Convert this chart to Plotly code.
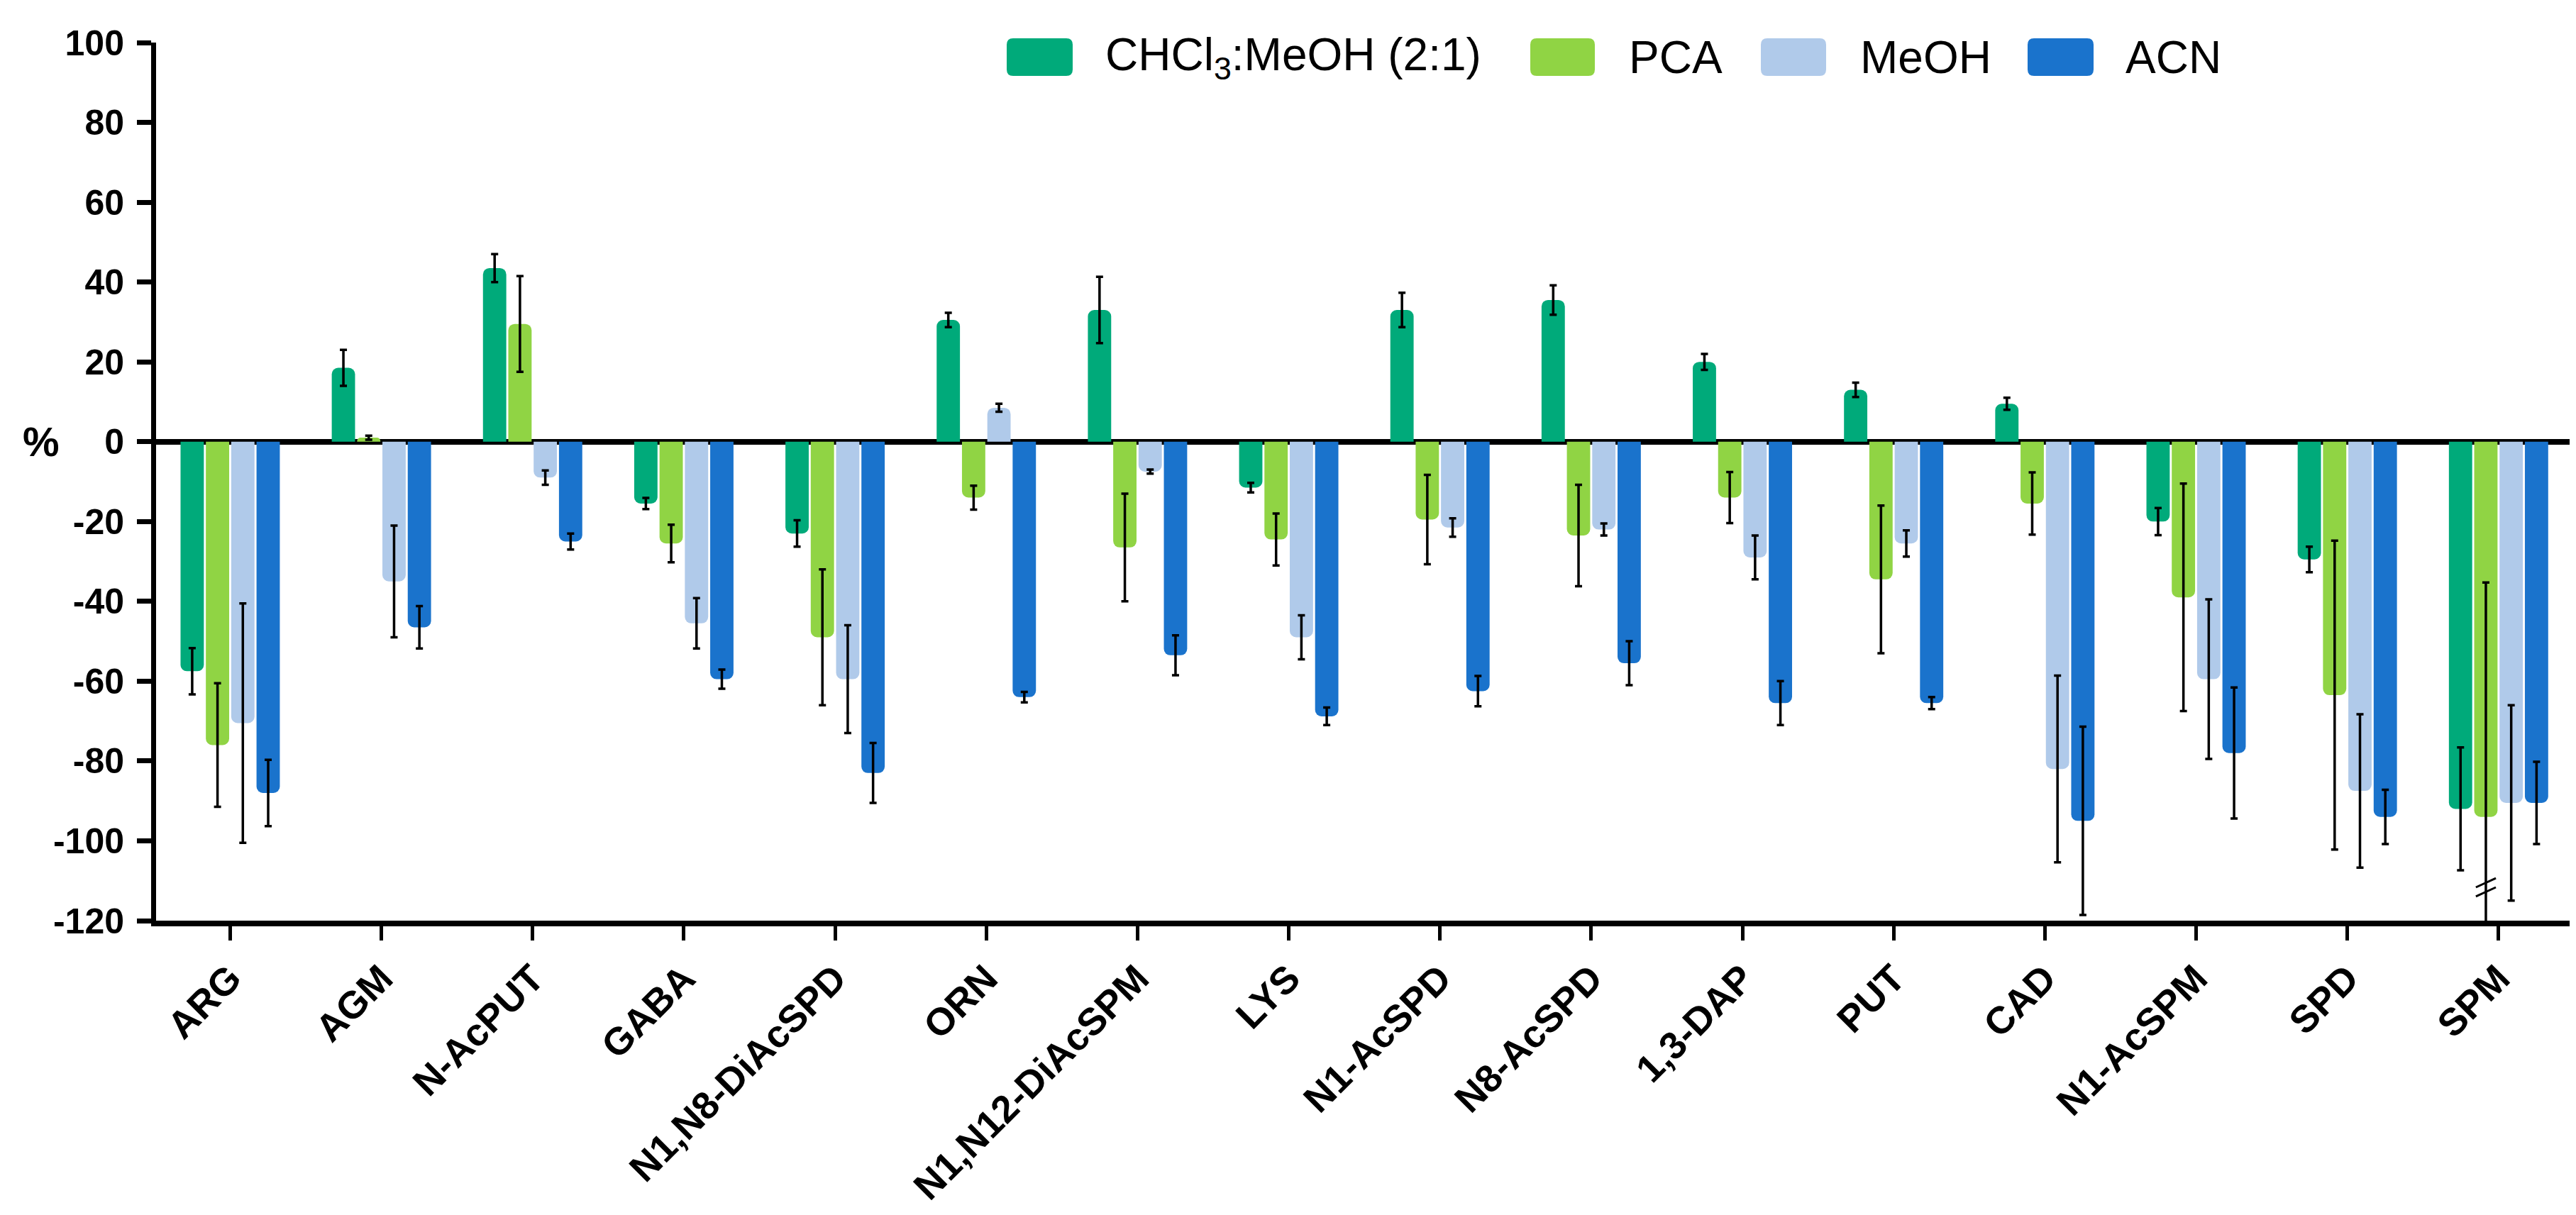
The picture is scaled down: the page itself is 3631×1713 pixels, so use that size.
import plotly.graph_objects as go

categories = ["ARG", "AGM", "N-AcPUT", "GABA", "N1,N8-DiAcSPD", "ORN", "N1,N12-DiAcSPM",
              "LYS", "N1-AcSPD", "N8-AcSPD", "1,3-DAP", "PUT", "CAD", "N1-AcSPM", "SPD", "SPM"]

chcl3 = [-57.5, 18.5, 43.5, -15.5, -23, 30.5, 33, -11.5, 33, 35.5, 20, 13, 9.5, -20, -29.5, -92]
chcl3_err = [5.8, 4.5, 3.5, 1.4, 3.3, 1.8, 8.3, 1.2, 4.3, 3.7, 2, 1.8, 1.5, 3.4, 3.2, 15.4]
pca = [-76, 1, 29.5, -25.5, -49, -14, -26.5, -24.5, -19.5, -23.5, -14, -34.5, -15.5, -39, -63.5, -94]
pca_err = [15.5, 0.5, 12, 4.7, 17, 3, 13.5, 6.5, 11.2, 12.7, 6.4, 18.5, 7.8, 28.5, 38.7, 58.7]
meoh = [-70.5, -35, -9, -45.5, -59.5, 8.5, -7.5, -49, -21.5, -22, -29, -25.5, -82, -59.5, -87.5, -90.5]
meoh_err = [30, 14, 1.8, 6.3, 13.5, 1, 0.5, 5.5, 2.3, 1.5, 5.5, 3.3, 23.4, 20, 19.2, 24.5]
acn = [-88, -46.5, -25, -59.5, -83, -64, -53.5, -68.8, -62.5, -55.5, -65.5, -65.5, -95, -78, -94, -90.5]
acn_err = [8.3, 5.3, 2, 2.4, 7.5, 1.3, 5, 2.2, 3.8, 5.5, 5.5, 1.5, 23.6, 16.4, 6.8, 10.3]

series_names = ["CHCl<sub>3</sub>:MeOH (2:1)", "PCA", "MeOH", "ACN"]
series_vals = [chcl3, pca, meoh, acn]
series_errs = [chcl3_err, pca_err, meoh_err, acn_err]
colors = ["#00AA7A", "#90D444", "#B0CAEA", "#1A73CC"]

yticks = [100, 80, 60, 40, 20, 0, -20, -40, -60, -80, -100, -120]

W, H = 3631, 1713
ML, MR, MT, MB = 212, 17, 52, 423
PW, PH = W - ML - MR, H - MT - MB
FONT = "Liberation Sans, Arial, sans-serif"
BARGAP = 0.33


def px2x(px):
    return (px - ML) / PW


def py2y(py):
    return (H - MB - py) / PH


def rounded_rect(w, h, r):
    hw, hh = w / 2, h / 2
    return (f"M{-hw + r},{-hh} L{hw - r},{-hh} Q{hw},{-hh} {hw},{-hh + r} "
            f"L{hw},{hh - r} Q{hw},{hh} {hw - r},{hh} L{-hw + r},{hh} "
            f"Q{-hw},{hh} {-hw},{hh - r} L{-hw},{-hh + r} Q{-hw},{-hh} {-hw + r},{-hh} Z")


fig = go.Figure()
for name, vals, errs, col in zip(series_names, series_vals, series_errs, colors):
    fig.add_trace(go.Bar(
        x=categories, y=vals, name=name,
        marker=dict(color=col, line=dict(width=0), cornerradius=9),
        error_y=dict(type="data", array=errs, visible=True, color="black",
                     thickness=3.5, width=5),
        showlegend=False,
    ))

# axis-break mark on the clipped PCA error bar of SPM
n = len(series_vals)
slot = (1 - BARGAP) / n
pca_off = -(1 - BARGAP) / 2 + 1.5 * slot
spm_i = categories.index("SPM")
for yb in (-110.5, -112.8):
    fig.add_shape(type="line", xref="x", yref="y",
                  x0=spm_i + pca_off - 0.066, x1=spm_i + pca_off + 0.066,
                  y0=yb - 1.15, y1=yb + 1.15,
                  line=dict(color="black", width=3))

# custom legend (large rounded swatches as in the reference)
leg_sw = [(1411, 1504), (2149, 2240), (2474, 2566), (2850, 2943)]
leg_tx = [1548, 2286, 2612, 2986]
for (x0, x1), tx, name, col in zip(leg_sw, leg_tx, series_names, colors):
    fig.add_shape(type="path", xref="paper", yref="paper",
                  xsizemode="pixel", ysizemode="pixel",
                  xanchor=px2x((x0 + x1) / 2), yanchor=py2y(72.5),
                  path=rounded_rect(x1 - x0, 53, 9),
                  fillcolor=col, line=dict(width=0))
    fig.add_annotation(xref="paper", yref="paper", x=px2x(tx), y=py2y(73),
                       xanchor="left", yanchor="middle", showarrow=False,
                       text=name, font=dict(family=FONT, size=64, color="black"))

fig.add_annotation(xref="paper", yref="y", x=px2x(50), y=0, xanchor="center",
                   yanchor="middle", showarrow=False, text="%",
                   font=dict(family=FONT, size=58, color="black", weight="bold"))

fig.update_layout(
    width=W, height=H,
    margin=dict(l=ML, r=MR, t=MT, b=MB, pad=0),
    paper_bgcolor="white", plot_bgcolor="white",
    barmode="group", bargap=BARGAP, bargroupgap=0.08,
    font=dict(family=FONT, color="black"),
)
fig.update_xaxes(
    type="category", range=[-0.49, 15.47],
    showline=True, linewidth=8, linecolor="black",
    ticks="outside", ticklen=20, tickwidth=5, tickcolor="black",
    tickangle=-45, showgrid=False, zeroline=False,
    tickfont=dict(family=FONT, size=54, color="black", weight="bold"),
)
fig.update_yaxes(
    range=[-120, 100], tickvals=yticks, ticktext=[str(v) for v in yticks],
    showline=True, linewidth=7, linecolor="black",
    ticks="outside", ticklen=20, tickwidth=7, tickcolor="black",
    showgrid=False, zeroline=True, zerolinewidth=8, zerolinecolor="black",
    tickfont=dict(family=FONT, size=50, color="black", weight="bold"),
    ticklabelstandoff=8,
)

fig.write_html("out.html")
